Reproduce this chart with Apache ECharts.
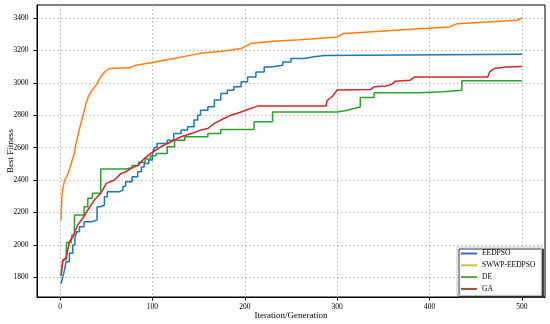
<!DOCTYPE html>
<html>
<head>
<meta charset="utf-8">
<script src="https://cdn.jsdelivr.net/npm/echarts@6/dist/echarts.min.js"></script>
<style>html,body{margin:0;padding:0;background:#fff;}#c{width:550px;height:324px;}</style>
</head>
<body>
<div id="c"></div>
<script>
// Series names
const seriesNames = ['EEDPSO', 'SWWP-EEDPSO', 'DE', 'GA'];
// Tick labels
const xTicks = [0, 100, 200, 300, 400, 500];
const yTicks = [1800, 2000, 2200, 2400, 2600, 2800, 3000, 3200, 3400];

// [iteration, best fitness]
const eedpso = [[1,1760],[3,1804],[5,1850],[6.5,1896],[10,1948],[13.7,1999],[16,2040],[18,2080],[21,2112],[26,2143],[35,2153],[40,2235],[44,2246],[48,2297],[51,2327],[64,2338],[68,2360],[71,2389],[78,2420],[84,2451],[88,2480],[91,2502],[96,2523],[100,2560],[102,2600],[105,2626],[116,2646],[123,2687],[131,2708],[138,2728],[145,2770],[149,2800],[152,2831],[160,2852],[167,2893],[174,2934],[181,2954],[188,2975],[196,3006],[203,3036],[212,3067],[221,3098],[228,3108],[241,3129],[250,3150],[264,3160],[275,3168],[286,3176],[500,3176]];
const swwp = [[1,2150],[2,2300],[3,2350],[5,2400],[7,2420],[10,2461],[13,2520],[15.5,2566],[17,2620],[19,2667],[22,2740],[24.5,2790],[28,2872],[31,2920],[33.5,2944],[39,2985],[44,3036],[48,3065],[53,3088],[60,3090],[75,3092],[82,3108],[100,3125],[123,3150],[150,3180],[160,3187],[175,3195],[196,3211],[206,3242],[231,3256],[260,3265],[300,3283],[307,3304],[347,3318],[380,3330],[421,3344],[430,3365],[462,3375],[495,3386],[500,3400]];
const de = [[1,1810],[3,1907],[6.5,1927],[7,2015],[12,2030],[13,2061],[15.5,2184],[26,2235],[30,2287],[35,2318],[44,2468],[71,2475],[78,2490],[85,2510],[92,2530],[98,2550],[104,2564],[116,2605],[124,2646],[135,2667],[160,2687],[174,2712],[210,2759],[230,2820],[300,2831],[311,2841],[318,2851],[325,2909],[340,2938],[388,2944],[415,2954],[435,3012],[500,3012]];
const ga = [[1,1808],[2,1810],[3,1907],[6.5,1917],[10,2019],[14,2050],[19,2122],[24.5,2164],[30,2215],[37,2276],[44,2318],[50,2379],[59,2400],[66,2441],[71,2451],[77,2472],[85,2492],[89,2520],[93,2540],[98,2564],[109,2605],[120,2636],[131,2667],[142,2687],[152,2708],[160,2718],[167,2749],[174,2770],[185,2800],[196,2820],[206,2841],[214,2856],[288,2856],[289,2890],[292,2903],[295,2917],[300,2955],[336,2958],[340,2975],[347,2979],[353,2980],[354,2992],[355,2982],[359,2990],[363,3010],[379,3016],[384,3036],[463,3036],[465,3067],[470,3088],[483,3098],[500,3100]];

const lineColors = ['#1f77b4', '#ff7f0e', '#2ca02c', '#d62728'];
const legendColors = ['#4a63c4', '#c9c43a', '#5c9e3c', '#a0502f'];
const font = 'Liberation Serif';

const chart = echarts.init(document.getElementById('c'), null, {renderer: 'canvas'});
const dataSets = [eedpso, swwp, de, ga];
const steps = ['end', false, 'end', false];

chart.setOption({
  animation: false,
  backgroundColor: '#fff',
  grid: {left: 37, right: 5, top: 5, bottom: 27, containLabel: false, outerBoundsMode: 'none', show: true, borderColor: '#000', borderWidth: 1, backgroundColor: 'transparent'},
  xAxis: {
    type: 'value', min: -25, max: 525, splitNumber: 5,
    name: 'Iteration/Generation', nameLocation: 'middle', nameGap: 14, nameMoveOverlap: false,
    nameTextStyle: {fontFamily: font, fontSize: 9, color: '#000'},
    axisLine: {show: true, onZero: false, lineStyle: {color: '#000', width: 1}},
    axisTick: {show: true, length: 3.5, lineStyle: {color: '#000'}, customValues: xTicks},
    axisLabel: {fontFamily: font, fontSize: 7.5, color: '#000', margin: 6.5, customValues: xTicks, formatter: v => String(v)},
    splitLine: {show: true, lineStyle: {color: '#b5b5b5', type: [2, 2], width: 0.8}}
  },
  yAxis: {
    type: 'value', min: 1678, max: 3480, splitNumber: 9,
    name: 'Best Fitness', nameLocation: 'middle', nameGap: 22, nameMoveOverlap: false,
    nameTextStyle: {fontFamily: font, fontSize: 9, color: '#000'},
    axisLine: {show: true, onZero: false, lineStyle: {color: '#000', width: 1}},
    axisTick: {show: true, length: 3.5, lineStyle: {color: '#000'}, customValues: yTicks},
    axisLabel: {fontFamily: font, fontSize: 7.5, color: '#000', margin: 8.5, customValues: yTicks, formatter: v => String(v)},
    splitLine: {show: true, lineStyle: {color: '#b5b5b5', type: [2, 2], width: 0.8}}
  },
  legend: {
    orient: 'vertical', left: 457, top: 247,
    backgroundColor: '#fff', borderColor: '#c8c8c8', borderWidth: 1, borderRadius: 0,
    shadowColor: '#333', shadowOffsetX: 2, shadowOffsetY: 2, shadowBlur: 0,
    padding: [2, 6, 2, 4], itemGap: 2.8, itemWidth: 16, itemHeight: 2, icon: 'rect',
    textStyle: {fontFamily: font, fontSize: 7.5, color: '#000', lineHeight: 9},
    data: seriesNames.map((n, i) => ({name: n, itemStyle: {color: legendColors[i]}}))
  },
  series: seriesNames.map((n, i) => ({
    name: n, type: 'line', data: dataSets[i], step: steps[i],
    showSymbol: false, symbol: 'none',
    lineStyle: {color: lineColors[i], width: 1.5},
    itemStyle: {color: lineColors[i]},
    z: 2 + i
  }))
});
</script>
</body>
</html>
